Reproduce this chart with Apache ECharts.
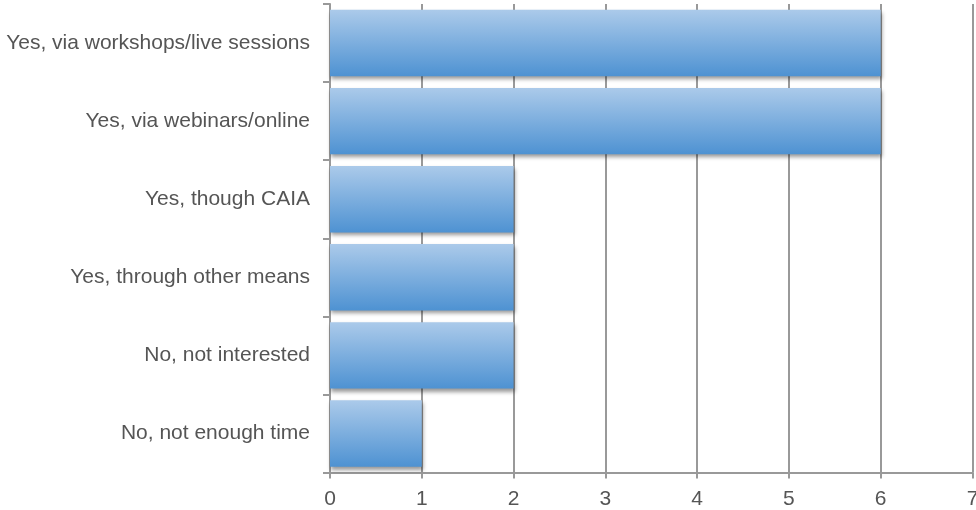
<!DOCTYPE html>
<html><head><meta charset="utf-8">
<script src="https://cdn.jsdelivr.net/npm/echarts@6/dist/echarts.min.js"></script>
<style>html,body{margin:0;padding:0;background:#fff}#c{width:976px;height:510px}</style>
</head><body><div id="c"></div>
<script>
const categories = ["Yes, via workshops/live sessions","Yes, via webinars/online","Yes, though CAIA","Yes, through other means","No, not interested","No, not enough time"];
const values = [6,6,2,2,2,1];
const xTicks = [0,1,2,3,4,5,6,7];

const chart = echarts.init(document.getElementById('c'));
chart.setOption({
  animation:false,
  grid:{left:330,right:3.5,top:4,bottom:37.5,containLabel:false,outerBoundsMode:'none'},
  xAxis:{type:'value',min:0,max:7,interval:1,
    axisLine:{show:true,lineStyle:{color:'#999',width:2}},
    axisTick:{show:true,length:6,lineStyle:{color:'#999',width:2}},
    splitLine:{show:true,lineStyle:{color:'#999',width:2}},
    axisLabel:{color:'#555',fontSize:21,fontFamily:'Liberation Sans',margin:16,hideOverlap:false,showMaxLabel:true,
      formatter:v=>xTicks.includes(v)?String(v):''}
  },
  yAxis:{type:'category',data:categories,inverse:true,
    axisLine:{show:true,lineStyle:{color:'#999',width:2}},
    axisTick:{show:true,length:7,lineStyle:{color:'#999',width:2}},
    axisLabel:{color:'#555',fontSize:21,fontFamily:'Liberation Sans',margin:20}
  },
  series:[{type:'bar',data:values,barCategoryGap:'15%',
    itemStyle:{
      color:new echarts.graphic.LinearGradient(0,0,0,1,[{offset:0,color:'#abcaea'},{offset:1,color:'#4e92d2'}]),
      shadowColor:'rgba(0,0,0,0.4)',shadowBlur:4,shadowOffsetY:3,shadowOffsetX:1
    }
  }]
});
</script></body></html>
